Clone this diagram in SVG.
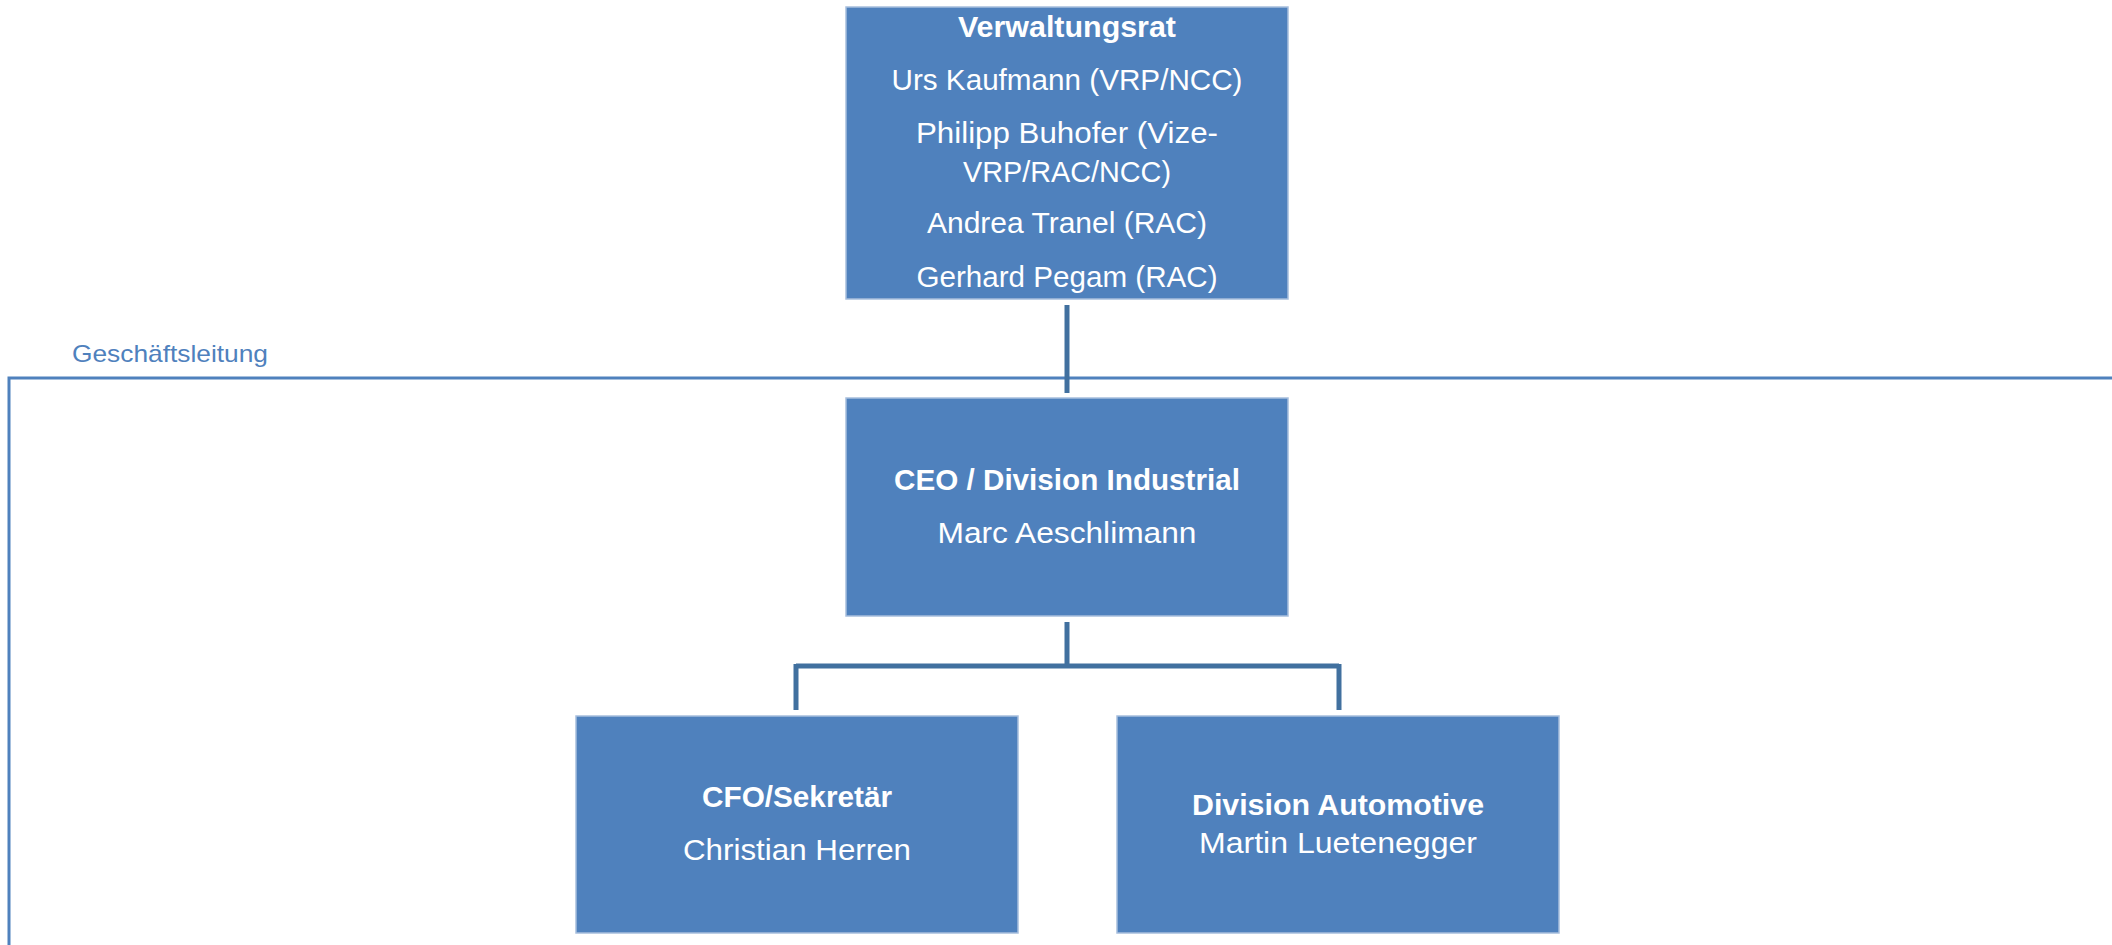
<svg xmlns="http://www.w3.org/2000/svg" width="2112" height="945" viewBox="0 0 2112 945">
<style>
.box{fill:#4F81BD;stroke:#A7BEDD;stroke-width:1.5}
.t{font-family:"Liberation Sans",Arial,sans-serif;font-size:30px;fill:#FFFFFF;text-anchor:middle}
.b{font-weight:bold}
.conn{fill:none;stroke:#41709F;stroke-width:5}
.frame{fill:none;stroke:#4F81BD;stroke-width:3}
.lbl{font-family:"Liberation Sans",Arial,sans-serif;font-size:24px;fill:#4F81BD}
</style>
<rect width="2112" height="945" fill="#FFFFFF"/>
<g id="geschaeftsleitung">
<path class="frame" d="M2112 378 H9 V945"/>
<text class="lbl" x="72" y="362" textLength="196" lengthAdjust="spacingAndGlyphs">Geschäftsleitung</text>
</g>
<g id="connectors">
<path class="conn" d="M1067 305 V393"/>
<path class="conn" d="M1067 622 V666 M796 666 H1339 M796 664 V710 M1339 664 V710"/>
</g>
<g id="verwaltungsrat">
<rect class="box" x="846" y="7" width="442" height="292"/>
<text class="t b" x="1067" y="37" textLength="218" lengthAdjust="spacingAndGlyphs">Verwaltungsrat</text>
<text class="t" x="1067" y="90" textLength="351" lengthAdjust="spacingAndGlyphs">Urs Kaufmann (VRP/NCC)</text>
<text class="t" x="1067" y="143" textLength="302" lengthAdjust="spacingAndGlyphs">Philipp Buhofer (Vize-</text>
<text class="t" x="1067" y="182" textLength="208" lengthAdjust="spacingAndGlyphs">VRP/RAC/NCC)</text>
<text class="t" x="1067" y="233" textLength="280" lengthAdjust="spacingAndGlyphs">Andrea Tranel (RAC)</text>
<text class="t" x="1067" y="287" textLength="301" lengthAdjust="spacingAndGlyphs">Gerhard Pegam (RAC)</text>
</g>
<g id="ceo">
<rect class="box" x="846" y="398" width="442" height="218"/>
<text class="t b" x="1067" y="490" textLength="346" lengthAdjust="spacingAndGlyphs">CEO / Division Industrial</text>
<text class="t" x="1067" y="543" textLength="259" lengthAdjust="spacingAndGlyphs">Marc Aeschlimann</text>
</g>
<g id="cfo">
<rect class="box" x="576" y="716" width="442" height="217"/>
<text class="t b" x="797" y="807" textLength="190" lengthAdjust="spacingAndGlyphs">CFO/Sekretär</text>
<text class="t" x="797" y="860" textLength="228" lengthAdjust="spacingAndGlyphs">Christian Herren</text>
</g>
<g id="automotive">
<rect class="box" x="1117" y="716" width="442" height="217"/>
<text class="t b" x="1338" y="815" textLength="292" lengthAdjust="spacingAndGlyphs">Division Automotive</text>
<text class="t" x="1338" y="853" textLength="278" lengthAdjust="spacingAndGlyphs">Martin Luetenegger</text>
</g>
</svg>
